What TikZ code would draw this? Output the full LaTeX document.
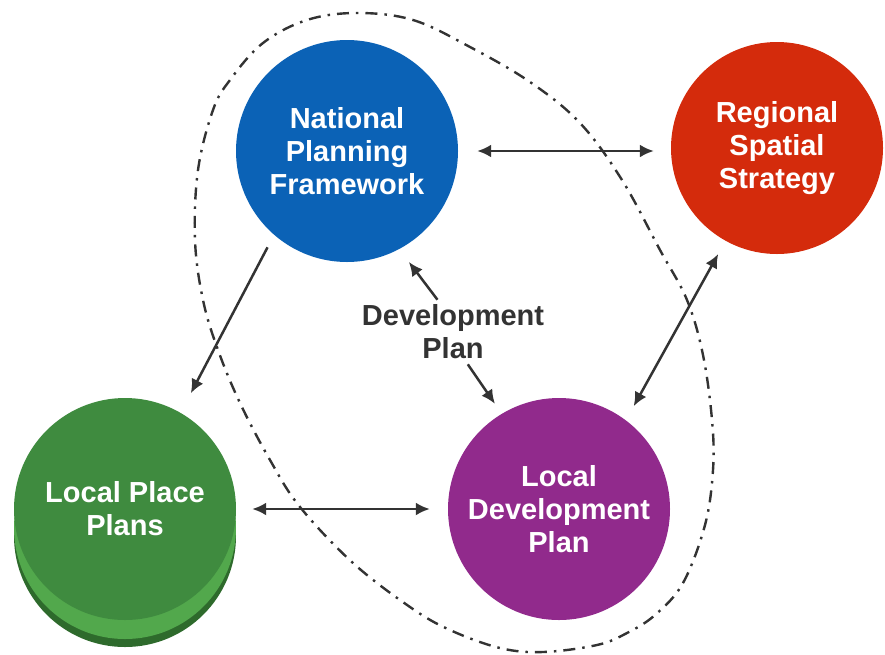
\documentclass[tikz,border=0pt]{standalone}
\usepackage{fontspec}
\setmainfont{Liberation Sans}
\usetikzlibrary{arrows.meta,calc}

\definecolor{npfblue}{HTML}{0B62B6}
\definecolor{rssred}{HTML}{D42B0C}
\definecolor{ldppurple}{HTML}{912A8C}
\definecolor{lppgreen}{HTML}{3F8B3F}
\definecolor{lpplight}{HTML}{52A84C}
\definecolor{lppdark}{HTML}{2E6A2C}
\definecolor{linegrey}{HTML}{333333}

\begin{document}
\begin{tikzpicture}[x=1pt,y=-1pt,
    plan/.style={circle,minimum size=222pt,inner sep=0pt,text=white,align=center,
      font=\fontsize{29}{33}\selectfont\bfseries},
    link/.style={draw=linegrey,line width=2.5pt,-{Latex[length=14pt,width=13pt]}},
    twoway/.style={link,{Latex[length=14pt,width=13pt]}-{Latex[length=14pt,width=13pt]}}]

    \useasboundingbox (0,0) rectangle (885,654);

    \draw[linegrey,line width=2.4pt,dash pattern=on 12pt off 7pt on 2.5pt off 7pt]
      plot[smooth cycle,tension=0.6] coordinates {
        (357,13) (413,20) (470,47) (530,82) (580,123) (622,180) (660,250) (687,300)
        (703,355) (712,420) (713,470) (705,525) (683,583) (655,615) (627,633) (597,645)
        (543,652) (500,648) (450,630) (410,607) (353,563) (300,507) (270,460) (240,403)
        (218,350) (203,300) (195,240) (198,170) (213,110) (230,80) (263,43) (307,20)};

    \fill[lppdark] (125,536) circle (111);
    \fill[lpplight] (125,528) circle (111);

    \node[plan,fill=npfblue] (npf) at (347,151) {National\\Planning\\Framework};
    \node[plan,fill=rssred,minimum size=212pt] (rss) at (777,148) {Regional\\Spatial\\Strategy};
    \node[plan,fill=lppgreen] (lpp) at (125,509) {Local Place\\Plans};
    \node[plan,fill=ldppurple] (ldp) at (559,509) {Local\\Development\\Plan};

    \node[text=linegrey,align=center,font=\fontsize{29}{33}\selectfont\bfseries] (dp) at (453,332) {Development\\Plan};

    \draw[twoway,shorten <=19pt,shorten >=17pt] (npf.east) -- (npf.east -| rss.west);
    \draw[link,shorten <=14pt,shorten >=22pt] (npf.229) -- (lpp.60);
    \draw[twoway,shorten <=15pt,shorten >=16pt] (rss.241) -- (ldp.53);
    \draw[twoway,shorten <=16pt,shorten >=18pt] (lpp.east) -- (ldp.west);
    \draw[link,shorten <=2pt,shorten >=16pt] (dp.115) -- (npf.-62);
    \draw[link,shorten <=2pt,shorten >=12pt] (dp.-66) -- (ldp.121);
\end{tikzpicture}
\end{document}
